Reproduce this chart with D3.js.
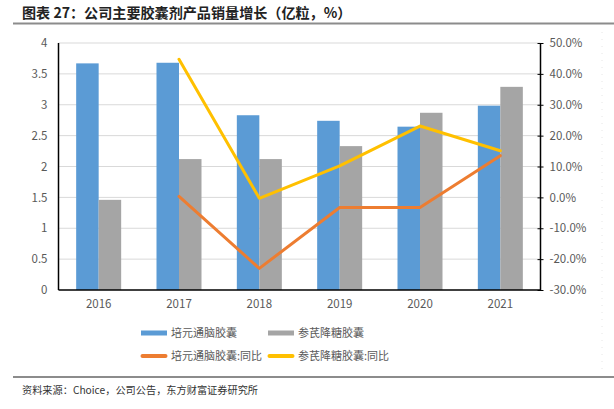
<!DOCTYPE html>
<html>
<head>
<meta charset="utf-8">
<script src="https://cdn.jsdelivr.net/npm/d3@7"></script>
<style>
  body { margin: 0; background: #fff; }
  text { font-family: "Noto Sans CJK SC", "DejaVu Sans", sans-serif; }
</style>
</head>
<body>
<div id="chart"></div>
<script>
// data
const years = ["2016", "2017", "2018", "2019", "2020", "2021"];
const peiyuan = [3.67, 3.68, 2.83, 2.74, 2.645, 2.985];   // 培元通脑胶囊 (亿粒)
const shenqi = [1.46, 2.12, 2.12, 2.33, 2.87, 3.29];      // 参芪降糖胶囊 (亿粒)
const peiyuanYoy = [null, 0.3, -23.0, -3.3, -3.3, 13.5];  // %
const shenqiYoy = [null, 44.7, -0.3, 10.2, 23.1, 15.1];   // %
const leftTicks = [0, 0.5, 1, 1.5, 2, 2.5, 3, 3.5, 4];
const rightTicks = [-30, -20, -10, 0, 10, 20, 30, 40, 50];

const W = 614, H = 409;
const plotL = 58.5, plotR = 540.5, plotT = 43, plotB = 290;

const svg = d3.select("#chart")
    .append("svg")
        .attr("width", W)
        .attr("height", H);

// title + rules
svg.append("text")
    .text("图表 27：公司主要胶囊剂产品销量增长（亿粒，%）")
    .attr("x", 22)
    .attr("y", 18)
    .attr("font-size", 14.1)
    .attr("font-weight", "bold")
    .attr("fill", "#222");
svg.append("rect").attr("x", 13).attr("y", 22.5).attr("width", W - 13).attr("height", 2).attr("fill", "#8c8c8c");
svg.append("rect").attr("x", 13).attr("y", 376).attr("width", W - 13).attr("height", 2).attr("fill", "#8c8c8c");
svg.append("text")
    .text("资料来源：Choice，公司公告，东方财富证券研究所")
    .attr("x", 22)
    .attr("y", 394)
    .attr("font-size", 10.2)
    .attr("fill", "#333");

// faint chart border on the right
svg.append("line")
    .attr("x1", 602).attr("x2", 602).attr("y1", 32).attr("y2", 372)
    .attr("stroke", "#e6e6e6").attr("stroke-dasharray", "1,6");

const x = d3.scaleBand().domain(years).range([plotL, plotR]);
const yL = d3.scaleLinear().domain([0, 4]).range([plotB, plotT]);
const yR = d3.scaleLinear().domain([-30, 50]).range([plotB, plotT]);

// gridlines
svg.selectAll(".grid")
    .data(leftTicks.slice(1))
    .enter()
    .append("line")
        .attr("x1", plotL).attr("x2", plotR)
        .attr("y1", d => yL(d)).attr("y2", d => yL(d))
        .attr("stroke", "#d9d9d9")
        .attr("stroke-width", 1);

// bars
const barW = 22.5;
svg.selectAll(".bar1")
    .data(peiyuan)
    .enter()
    .append("rect")
        .attr("x", (d, i) => x(years[i]) + x.bandwidth() / 2 - barW)
        .attr("y", d => yL(d))
        .attr("width", barW)
        .attr("height", d => plotB - yL(d))
        .attr("fill", "#5b9bd5");
svg.selectAll(".bar2")
    .data(shenqi)
    .enter()
    .append("rect")
        .attr("x", (d, i) => x(years[i]) + x.bandwidth() / 2)
        .attr("y", d => yL(d))
        .attr("width", barW)
        .attr("height", d => plotB - yL(d))
        .attr("fill", "#a5a5a5");

// lines
const line = d3.line()
    .defined(d => d[1] !== null)
    .x(d => x(d[0]) + x.bandwidth() / 2)
    .y(d => yR(d[1]));

svg.append("path")
    .attr("d", line(years.map((y, i) => [y, peiyuanYoy[i]])))
    .attr("fill", "none")
    .attr("stroke", "#ed7d31")
    .attr("stroke-width", 3)
    .attr("stroke-linejoin", "round")
    .attr("stroke-linecap", "round");
svg.append("path")
    .attr("d", line(years.map((y, i) => [y, shenqiYoy[i]])))
    .attr("fill", "none")
    .attr("stroke", "#ffc000")
    .attr("stroke-width", 3)
    .attr("stroke-linejoin", "round")
    .attr("stroke-linecap", "round");

// axes
const axisL = svg.append("g")
    .attr("transform", `translate(${plotL},0)`)
    .call(d3.axisLeft(yL).tickValues(leftTicks).tickSize(0).tickPadding(11).tickFormat(d3.format("")));
const axisR = svg.append("g")
    .attr("transform", `translate(${plotR},0)`)
    .call(d3.axisRight(yR).tickValues(rightTicks).tickSize(3).tickPadding(6).tickFormat(d => d.toFixed(1) + "%"));
axisR.selectAll(".tick line").attr("x1", -3).attr("stroke", "#000");
const axisB = svg.append("g")
    .attr("transform", `translate(0,${plotB})`)
    .call(d3.axisBottom(x).tickSize(0).tickPadding(10));

[axisL, axisR, axisB].forEach(a => {
    a.select(".domain").attr("stroke", "#000").attr("stroke-width", 1.5);
    a.selectAll("text").attr("fill", "#595959").attr("font-size", 11.5)
        .style("font-family", "'Noto Sans CJK SC', 'DejaVu Sans', sans-serif");
});
axisR.select(".domain").attr("d", `M0,${plotT}V${plotB}`);
axisL.select(".domain").attr("d", `M0,${plotT}V${plotB}`);
axisB.select(".domain").attr("d", `M${plotL},0H${plotR}`);

// legend
const legend = [
    { name: "培元通脑胶囊", color: "#5b9bd5", type: "bar", x: 141, y: 333 },
    { name: "参芪降糖胶囊", color: "#a5a5a5", type: "bar", x: 268, y: 333 },
    { name: "培元通脑胶囊:同比", color: "#ed7d31", type: "line", x: 141, y: 356 },
    { name: "参芪降糖胶囊:同比", color: "#ffc000", type: "line", x: 268, y: 356 }
];
const lg = svg.selectAll(".legend")
    .data(legend)
    .enter()
    .append("g")
        .attr("transform", d => `translate(${d.x},${d.y})`);
lg.filter(d => d.type === "bar").append("rect")
    .attr("x", 0).attr("y", -2.5).attr("width", 26).attr("height", 5)
    .attr("fill", d => d.color);
lg.filter(d => d.type === "line").append("line")
    .attr("x1", 1.5).attr("x2", 24.5).attr("y1", 0).attr("y2", 0)
    .attr("stroke", d => d.color).attr("stroke-width", 4).attr("stroke-linecap", "round");
lg.append("text")
    .text(d => d.name)
    .attr("x", 30)
    .attr("y", 0)
    .attr("dy", "0.35em")
    .attr("font-size", 11)
    .attr("fill", "#595959");
</script>
</body>
</html>
